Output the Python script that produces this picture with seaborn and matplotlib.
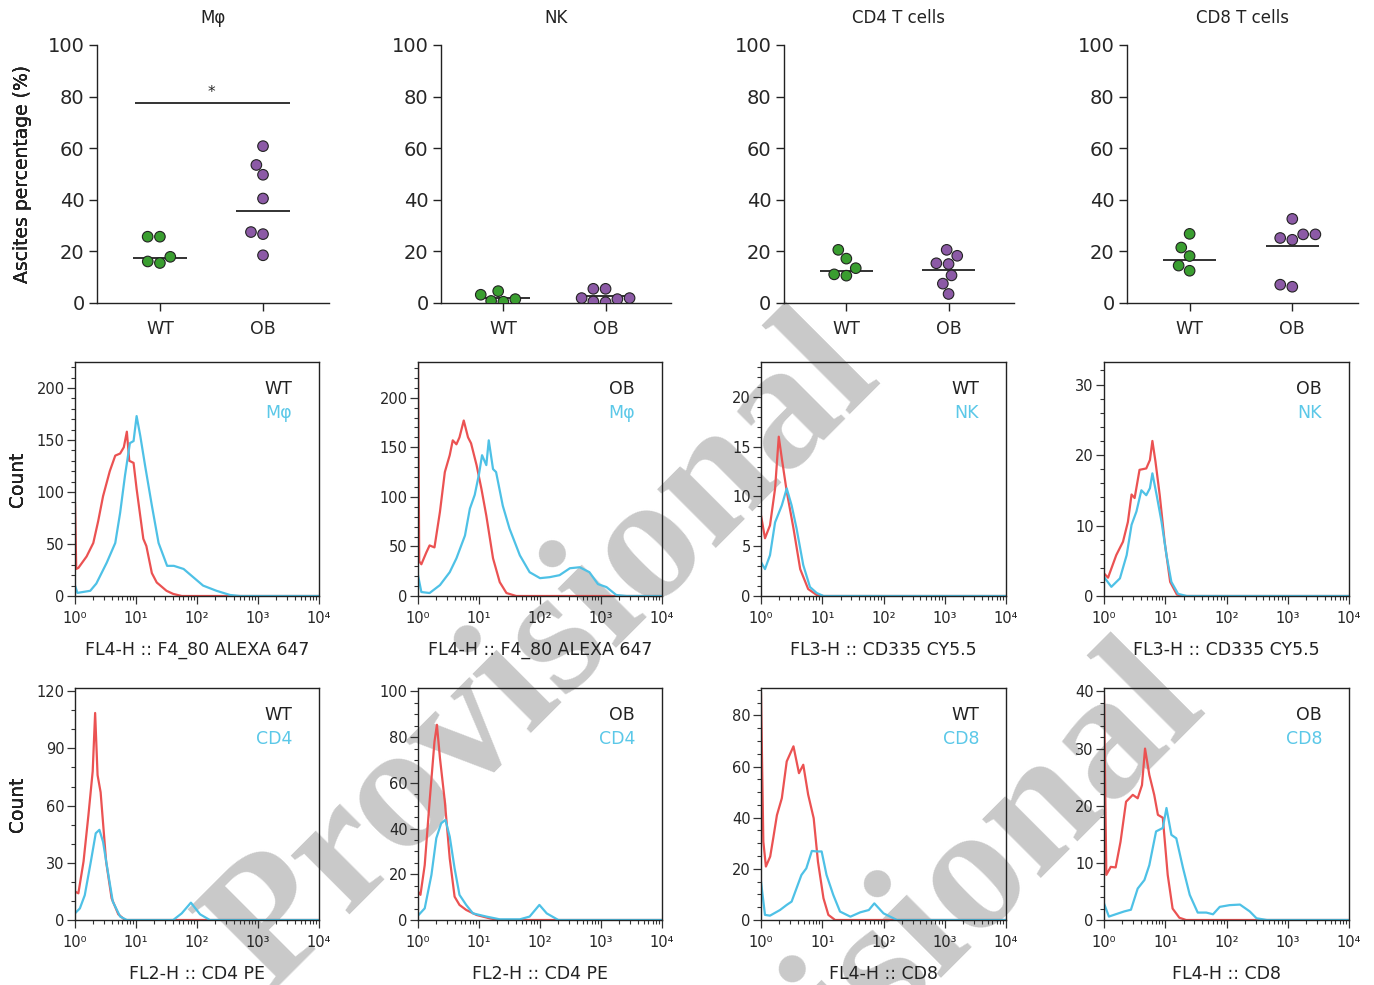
import numpy as np
import pandas as pd
import matplotlib
matplotlib.use("Agg")
import matplotlib.pyplot as plt
import seaborn as sns
from matplotlib.ticker import MultipleLocator, FixedLocator, FixedFormatter, LogLocator, NullFormatter

sns.set_style("ticks")
plt.rcParams["font.family"] = ["DejaVu Sans"]

# ---- top row: ascites percentage per mouse ----
groups = ["WT", "OB"]
cell_types = ["Mφ", "NK", "CD4 T cells", "CD8 T cells"]

mphi_wt = [25.7, 25.7, 15.5, 16.1, 17.9]
mphi_ob = [60.8, 53.5, 49.7, 40.5, 26.7, 27.5, 18.5]
nk_wt = [4.6, 0.5, 3.2, 0.8, 1.5]
nk_ob = [5.5, 5.5, 1.9, 1.9, 0.3, 0.6, 1.5]
cd4_wt = [20.6, 17.2, 13.5, 11.1, 10.6]
cd4_ob = [18.3, 20.6, 15.1, 15.4, 10.7, 7.5, 3.5]
cd8_wt = [26.8, 21.5, 18.2, 14.5, 12.5]
cd8_ob = [32.6, 25.2, 26.6, 24.5, 26.6, 6.3, 7.1]

# centre lines drawn on each group
wt_line = [17.3, 1.9, 12.4, 16.5]
ob_line = [35.7, 2.9, 12.8, 21.9]
sig_y = 77.7

# ---- histograms: log10 intensity and count, red = control, blue = stained ----
h1_red_x = [0, 0.02, 0.055, 0.19, 0.30, 0.38, 0.46, 0.57, 0.66, 0.74, 0.80, 0.85, 0.89, 0.96, 1.01, 1.12, 1.17, 1.26, 1.34, 1.5, 1.61, 1.75, 4]
h1_red_y = [90, 26, 27, 38, 51, 72, 96, 120, 135, 137, 143, 158, 130, 128, 103, 55, 48, 22, 13, 5, 2, 0, 0]
h1_blue_x = [0, 0.04, 0.25, 0.35, 0.52, 0.66, 0.74, 0.82, 0.9, 0.96, 1.01, 1.07, 1.15, 1.26, 1.37, 1.51, 1.62, 1.78, 1.92, 2.1, 2.32, 2.54, 2.7, 4]
h1_blue_y = [10, 3, 5, 12, 32, 51, 80, 116, 147, 149, 173, 154, 125, 87, 51, 29, 29, 26, 19, 10, 5, 1, 0, 0]

h2_red_x = [0, 0.02, 0.055, 0.137, 0.19, 0.27, 0.36, 0.44, 0.52, 0.57, 0.63, 0.68, 0.75, 0.82, 0.87, 0.96, 1.04, 1.12, 1.23, 1.34, 1.45, 1.61, 4]
h2_red_y = [240, 35, 32, 44, 51, 49, 85, 125, 142, 157, 153, 160, 177, 160, 154, 132, 108, 81, 38, 14, 3, 0, 0]
h2_blue_x = [0, 0.055, 0.19, 0.36, 0.52, 0.63, 0.77, 0.85, 0.93, 1.0, 1.05, 1.12, 1.16, 1.23, 1.28, 1.39, 1.5, 1.67, 1.83, 2.0, 2.16, 2.32, 2.49, 2.65, 2.81, 2.95, 3.09, 3.25, 3.42, 4]
h2_blue_y = [21, 4, 3, 11, 24, 38, 61, 88, 102, 123, 142, 132, 157, 128, 125, 91, 68, 41, 24, 18, 19, 21, 28, 29, 24, 12, 9, 1, 0, 0]

h3_red_x = [0, 0.065, 0.147, 0.23, 0.29, 0.34, 0.42, 0.53, 0.64, 0.77, 0.91, 1.02, 4]
h3_red_y = [8.1, 5.8, 7.1, 10.8, 16, 13.8, 10.5, 6.8, 2.7, 0.7, 0.1, 0, 0]
h3_blue_x = [0, 0.065, 0.147, 0.23, 0.34, 0.42, 0.5, 0.58, 0.69, 0.8, 0.91, 1.02, 4]
h3_blue_y = [3.4, 2.7, 4.1, 7.4, 9.1, 10.8, 9.1, 6.8, 3.1, 0.9, 0.3, 0, 0]

h4_red_x = [0, 0.066, 0.2, 0.31, 0.39, 0.45, 0.5, 0.58, 0.69, 0.75, 0.79, 0.84, 0.91, 0.99, 1.08, 1.19, 1.29, 4]
h4_red_y = [3.2, 2.6, 5.8, 7.7, 10.5, 14.4, 13.9, 17.9, 18.1, 19.3, 22, 19.1, 14.3, 7.7, 2, 0.2, 0, 0]
h4_blue_x = [0, 0.12, 0.26, 0.37, 0.45, 0.53, 0.61, 0.69, 0.75, 0.79, 0.86, 0.94, 1.02, 1.1, 1.21, 1.35, 4]
h4_blue_y = [2.7, 1.3, 2.5, 5.8, 10.1, 12, 15, 14.3, 15.3, 17.4, 14.3, 10.5, 5.8, 2, 0.3, 0, 0]

h5_red_x = [0, 0.055, 0.14, 0.22, 0.29, 0.33, 0.37, 0.42, 0.51, 0.6, 0.71, 0.82, 4]
h5_red_y = [14.9, 14, 30.7, 55, 78, 108.6, 76, 67, 30.7, 11.4, 3, 0, 0]
h5_blue_x = [0, 0.08, 0.16, 0.26, 0.34, 0.4, 0.46, 0.53, 0.62, 0.74, 0.85, 1.61, 1.75, 1.9, 2.05, 2.21, 4]
h5_blue_y = [3.5, 6.1, 13, 30.7, 45.5, 47.3, 41, 27, 9.6, 1.8, 0, 0, 3.5, 9.1, 3, 0, 0]

h6_red_x = [0, 0.04, 0.11, 0.19, 0.27, 0.31, 0.36, 0.44, 0.52, 0.6, 0.68, 0.79, 0.96, 1.18, 1.34, 4]
h6_red_y = [12.4, 11, 24, 51.8, 78, 85.4, 70.8, 51.8, 27, 10.2, 6.6, 4.4, 2.2, 0.7, 0, 0]
h6_blue_x = [0, 0.11, 0.22, 0.3, 0.38, 0.45, 0.52, 0.6, 0.68, 0.79, 0.9, 1.12, 1.34, 1.67, 1.83, 1.99, 2.11, 2.3, 4]
h6_blue_y = [1.9, 5.1, 19.7, 35.8, 42.3, 43.8, 36.5, 22.6, 11, 6.6, 2.9, 1.5, 0.3, 0.3, 1.5, 6.6, 2.9, 0, 0]

h7_red_x = [0, 0.038, 0.08, 0.15, 0.2, 0.26, 0.34, 0.42, 0.53, 0.62, 0.69, 0.77, 0.86, 0.93, 1.02, 1.1, 1.21, 4]
h7_red_y = [89, 30.7, 20.9, 24.8, 32, 41, 47.6, 62, 67.9, 57.4, 60.7, 49, 39.8, 22.8, 8.5, 2, 0, 0]
h7_blue_x = [0, 0.065, 0.147, 0.31, 0.42, 0.5, 0.58, 0.66, 0.74, 0.83, 0.91, 0.99, 1.07, 1.18, 1.29, 1.46, 1.62, 1.76, 1.85, 2.0, 2.22, 4]
h7_blue_y = [15, 2, 1.7, 3.9, 5.9, 7.2, 12.4, 17.6, 20.2, 27, 26.8, 26.8, 17.6, 9.8, 3.3, 1.3, 3, 3.9, 6.5, 2.6, 0, 0]

h8_red_x = [0, 0.038, 0.11, 0.19, 0.27, 0.36, 0.47, 0.55, 0.62, 0.67, 0.74, 0.82, 0.88, 0.96, 1.04, 1.12, 1.23, 1.34, 4]
h8_red_y = [39.4, 7.9, 9.3, 9.2, 13.7, 20.7, 21.9, 21.3, 23.6, 30, 25.4, 21.9, 18.4, 17.9, 7.9, 2, 0.4, 0, 0]
h8_blue_x = [0, 0.08, 0.19, 0.33, 0.44, 0.55, 0.66, 0.74, 0.85, 0.96, 1.02, 1.10, 1.18, 1.29, 1.4, 1.53, 1.67, 1.78, 1.89, 2.05, 2.22, 2.38, 2.49, 2.66, 4]
h8_blue_y = [2.9, 0.6, 1, 1.5, 1.8, 5.5, 7, 9.6, 15.5, 16.1, 19.6, 14.9, 14.3, 9.1, 4.4, 1.3, 1.3, 1, 2.3, 2.6, 2.7, 1.5, 0.3, 0, 0]

hist_group = ["WT", "OB", "WT", "OB", "WT", "OB", "WT", "OB"]
hist_marker = ["Mφ", "Mφ", "NK", "NK", "CD4", "CD4", "CD8", "CD8"]
hist_xlabel = ["FL4-H :: F4_80 ALEXA 647", "FL4-H :: F4_80 ALEXA 647",
               "FL3-H :: CD335 CY5.5", "FL3-H :: CD335 CY5.5",
               "FL2-H :: CD4 PE", "FL2-H :: CD4 PE",
               "FL4-H :: CD8", "FL4-H :: CD8"]
hist_ymax = [225, 236, 23.5, 33.2, 121.7, 101.5, 90.7, 40.6]
hist_major = [50, 50, 5, 10, 30, 20, 20, 10]
hist_minor = [10, 10, 1, 2, 10, 5, 5, 2]
decade_labels = ["10⁰", "10¹", "10²", "10³", "10⁴"]

RED = "#EB5252"
BLUE = "#4EC1E6"
GREEN = "#3A9E30"
PURPLE = "#8C5AA6"

W, H = 1374, 985
fig = plt.figure(figsize=(W / 100, H / 100), dpi=100)
fig.patch.set_facecolor("white")


def px_axes(l, t, r, b):
    ax = fig.add_axes([l / W, 1 - b / H, (r - l) / W, (b - t) / H])
    ax.patch.set_visible(False)
    return ax


# watermark (drawn under the axes, runs off the page as in the source)
for cx, cy in [(545, 655), (870, 985)]:
    fig.text(cx / W, 1 - cy / H, "Provisional", rotation=45, fontsize=130,
             family="Liberation Serif", fontweight="bold", color="#c9c9c9",
             ha="center", va="center", zorder=-5)

# ---- top row ----
top_lefts = [97, 441, 784, 1127]
top_rights = [329, 671, 1014, 1358]
top_sets = [(mphi_wt, mphi_ob), (nk_wt, nk_ob), (cd4_wt, cd4_ob), (cd8_wt, cd8_ob)]

for i, (wt, ob) in enumerate(top_sets):
    ax = px_axes(top_lefts[i], 45, top_rights[i], 303)
    df = pd.DataFrame({"group": ["WT"] * len(wt) + ["OB"] * len(ob), "value": wt + ob})
    sns.swarmplot(data=df, x="group", y="value", hue="group", order=groups,
                  palette={"WT": GREEN, "OB": PURPLE}, size=7.6,
                  edgecolor="#222222", linewidth=0.8, legend=False, ax=ax, zorder=3)
    for j, v in enumerate([wt_line[i], ob_line[i]]):
        ax.hlines(v, j - 0.26, j + 0.26, color="#222222", lw=1.3, zorder=2)
    ax.set_xlim(-0.61, 1.64)
    ax.set_ylim(0, 100)
    ax.yaxis.set_major_locator(MultipleLocator(20))
    ax.tick_params(axis="y", labelsize=14, length=6, width=1, pad=3, color="#222222")
    ax.tick_params(axis="x", labelsize=12.5, length=6, width=1, pad=6, color="#222222")
    ax.set_xlabel("")
    ax.set_ylabel("Ascites percentage (%)", fontsize=13.5, color="#222222")
    ax.yaxis.set_label_coords((32 - top_lefts[i]) / (top_rights[i] - top_lefts[i]), 0.5)
    sns.despine(ax=ax)
    for s in ["left", "bottom"]:
        ax.spines[s].set_linewidth(1)
        ax.spines[s].set_color("#222222")
    ax.text(0.5, (303 - 18) / 258, cell_types[i], transform=ax.transAxes,
            ha="center", va="center", fontsize=12, color="#222222")
    if i == 0:
        ax.hlines(sig_y, -0.24, 1.26, color="#111111", lw=1.2)
        ax.text(0.5, sig_y + 1, "*", ha="center", va="bottom", fontsize=11)

# ---- histograms ----
hist_data = [
    (h1_red_x, h1_red_y, h1_blue_x, h1_blue_y),
    (h2_red_x, h2_red_y, h2_blue_x, h2_blue_y),
    (h3_red_x, h3_red_y, h3_blue_x, h3_blue_y),
    (h4_red_x, h4_red_y, h4_blue_x, h4_blue_y),
    (h5_red_x, h5_red_y, h5_blue_x, h5_blue_y),
    (h6_red_x, h6_red_y, h6_blue_x, h6_blue_y),
    (h7_red_x, h7_red_y, h7_blue_x, h7_blue_y),
    (h8_red_x, h8_red_y, h8_blue_x, h8_blue_y),
]
hist_lefts = [75, 418, 761, 1104]
hist_rights = [319, 662, 1006, 1349]
row_tb = [(362, 596), (688, 920)]
# panel order: row 2 = Mφ WT, Mφ OB, NK WT, NK OB ; row 3 = CD4 WT, CD4 OB, CD8 WT, CD8 OB
for k in range(8):
    row, col = k // 4, k % 4
    top, bottom = row_tb[row]
    ax = px_axes(hist_lefts[col], top, hist_rights[col], bottom)
    rx, ry, bx, by = hist_data[k]
    sns.lineplot(x=10 ** np.array(rx), y=ry, ax=ax, color=RED, lw=1.6,
                 estimator=None, sort=False)
    sns.lineplot(x=10 ** np.array(bx), y=by, ax=ax, color=BLUE, lw=1.6,
                 estimator=None, sort=False)
    ax.set_xscale("log")
    ax.set_xlim(1, 1e4)
    ax.set_ylim(0, hist_ymax[k])
    ax.xaxis.set_major_locator(FixedLocator([1, 10, 100, 1000, 10000]))
    ax.xaxis.set_major_formatter(FixedFormatter(decade_labels))
    ax.xaxis.set_minor_locator(LogLocator(base=10, subs=np.arange(2, 10)))
    ax.xaxis.set_minor_formatter(NullFormatter())
    ax.yaxis.set_major_locator(MultipleLocator(hist_major[k]))
    ax.yaxis.set_minor_locator(MultipleLocator(hist_minor[k]))
    ax.tick_params(which="major", labelsize=10.5, length=5.5, width=0.9, pad=2, color="#333333")
    ax.tick_params(axis="x", which="major", pad=5)
    ax.tick_params(which="minor", length=3, width=0.8, color="#333333")
    for s in ax.spines.values():
        s.set_linewidth(1)
        s.set_color("#222222")
    ax.set_ylabel("Count", fontsize=13.5, color="#222222")
    ax.yaxis.set_label_coords((27 - hist_lefts[col]) / (hist_rights[col] - hist_lefts[col]), 0.5)
    ax.set_xlabel(hist_xlabel[k], fontsize=12.5, color="#222222")
    ax.xaxis.set_label_coords(0.5, -(641 - 596) / 234)
    ax.text(0.89, 0.885, hist_group[k], transform=ax.transAxes, ha="right", va="center",
            fontsize=12.5, color="#222222")
    ax.text(0.89, 0.78, hist_marker[k], transform=ax.transAxes, ha="right", va="center",
            fontsize=12.5, color="#5BC8E8")

fig.savefig("out.png", dpi=100, facecolor="white")
